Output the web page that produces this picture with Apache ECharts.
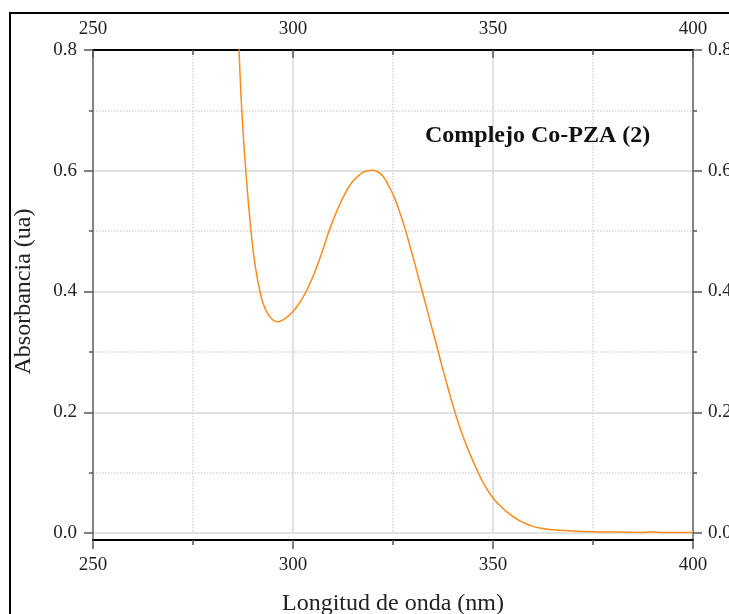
<!DOCTYPE html>
<html>
<head>
<meta charset="utf-8">
<script src="https://cdn.jsdelivr.net/npm/echarts@6/dist/echarts.min.js"></script>
<style>html,body{margin:0;padding:0;background:#fff}#c{width:729px;height:614px}</style>
</head>
<body>
<div id="c"></div>
<script>
// Data
const wavelength = [285.5, 286.5, 287.2, 288.2, 289.5, 290.5, 291.75, 293, 294.5, 296.3, 298, 300, 302, 304, 306, 307.5, 309, 311, 313, 315, 317, 318.5, 319.7, 321, 322.5, 324, 325.5, 327, 328.2, 330, 332.2, 334, 336.2, 338, 340.5, 343, 346.3, 348, 350, 352, 354, 356, 358, 360, 362, 365, 368, 375, 382, 388, 390, 391.5, 395, 400];
const absorbance = [0.95, 0.8, 0.7, 0.6, 0.5, 0.445, 0.4, 0.372, 0.356, 0.350, 0.355, 0.367, 0.385, 0.41, 0.442, 0.47, 0.5, 0.534, 0.562, 0.583, 0.595, 0.6, 0.601, 0.599, 0.591, 0.574, 0.553, 0.525, 0.5, 0.457, 0.403, 0.358, 0.303, 0.258, 0.2, 0.151, 0.1, 0.078, 0.058, 0.044, 0.032, 0.023, 0.016, 0.011, 0.008, 0.0055, 0.004, 0.002, 0.0015, 0.001, 0.002, 0.001, 0.001, 0.001];
const xTicks = [250, 300, 350, 400];
const yTicks = [0.0, 0.2, 0.4, 0.6, 0.8];
const seriesName = 'Complejo Co-PZA (2)';
const xTitle = 'Longitud de onda (nm)';
const yTitle = 'Absorbancia (ua)';

const FONT = '"Liberation Serif", "Times New Roman", serif';
const chart = echarts.init(document.getElementById('c'));
const lbl = {fontFamily: FONT, fontSize: 19, color: '#222'};
const tickStyle = {color: '#555', width: 1.5};

chart.setOption({
  animation: false,
  backgroundColor: '#fff',
  title: {
    text: seriesName, left: 420, top: 119,
    textStyle: {fontFamily: FONT, fontWeight: 'bold', fontSize: 24, color: '#111'}
  },
  graphic: [{
    type: 'rect', shape: {x: 10, y: 13, width: 800, height: 700},
    style: {fill: 'none', stroke: '#000', lineWidth: 2}, silent: true
  }],
  grid: [
    {left: 93, right: 36, top: 50, bottom: 81, outerBoundsMode: 'none', containLabel: false},
    {left: 93, right: 36, top: 50, bottom: 74, outerBoundsMode: 'none', containLabel: false}
  ],
  xAxis: [
    {
      gridIndex: 0, type: 'value', position: 'bottom', offset: 7,
      min: xTicks[0], max: xTicks[xTicks.length - 1], interval: 50,
      axisLine: {onZero: false, lineStyle: {color: '#000', width: 2}},
      axisTick: {length: 9, lineStyle: tickStyle},
      minorTick: {show: true, splitNumber: 2, length: 5, lineStyle: tickStyle},
      axisLabel: Object.assign({margin: 16}, lbl),
      splitLine: {show: true, lineStyle: {color: '#d9d9d9', width: 1.5}},
      minorSplitLine: {show: true, lineStyle: {color: '#d6d6d6', width: 1.5, type: 'dotted'}},
      name: xTitle, nameLocation: 'middle', nameGap: 52,
      nameTextStyle: {fontFamily: FONT, fontSize: 24, color: '#222'}
    },
    {
      gridIndex: 0, type: 'value', position: 'top',
      min: xTicks[0], max: xTicks[xTicks.length - 1], interval: 50,
      axisLine: {onZero: false, lineStyle: {color: '#000', width: 2}},
      axisTick: {inside: true, length: 8, lineStyle: tickStyle},
      minorTick: {show: true, splitNumber: 2, length: 5, lineStyle: tickStyle},
      axisLabel: Object.assign({margin: 11}, lbl),
      splitLine: {show: false}
    },
    {gridIndex: 1, type: 'value', show: false, min: 250, max: 400}
  ],
  yAxis: [
    {
      gridIndex: 0, type: 'value', position: 'left',
      min: yTicks[0], max: yTicks[yTicks.length - 1], interval: 0.2,
      axisLine: {show: false},
      axisTick: {length: 9, lineStyle: tickStyle},
      minorTick: {show: true, splitNumber: 2, length: 4, lineStyle: tickStyle},
      axisLabel: Object.assign({margin: 16, formatter: v => v.toFixed(1)}, lbl),
      splitLine: {show: true, lineStyle: {color: '#d9d9d9', width: 1.5}},
      minorSplitLine: {show: true, lineStyle: {color: '#d6d6d6', width: 1.5, type: 'dotted'}},
      name: yTitle, nameLocation: 'middle', nameGap: 57, nameRotate: 90,
      nameTextStyle: {fontFamily: FONT, fontSize: 24, color: '#222'}
    },
    {
      gridIndex: 0, type: 'value', position: 'right',
      min: yTicks[0], max: yTicks[yTicks.length - 1], interval: 0.2,
      axisLine: {show: false},
      axisTick: {length: 9, lineStyle: tickStyle},
      minorTick: {show: true, splitNumber: 2, length: 4, lineStyle: tickStyle},
      axisLabel: Object.assign({margin: 15, formatter: v => v.toFixed(1)}, lbl),
      splitLine: {show: false}
    },
    {
      gridIndex: 1, type: 'value', position: 'left', min: 0, max: 1,
      axisLine: {show: true, onZero: false, lineStyle: {color: '#666', width: 1.5}},
      axisTick: {show: false}, axisLabel: {show: false}, splitLine: {show: false}
    },
    {
      gridIndex: 1, type: 'value', position: 'right', min: 0, max: 1,
      axisLine: {show: true, onZero: false, lineStyle: {color: '#666', width: 1.5}},
      axisTick: {show: false}, axisLabel: {show: false}, splitLine: {show: false}
    }
  ],
  series: [{
    type: 'line', name: seriesName, xAxisIndex: 0, yAxisIndex: 0,
    data: wavelength.map((w, i) => [w, absorbance[i]]),
    showSymbol: false, smooth: 0.5, clip: true,
    lineStyle: {color: '#ff8a1c', width: 1.5}
  }]
});
</script>
</body>
</html>
